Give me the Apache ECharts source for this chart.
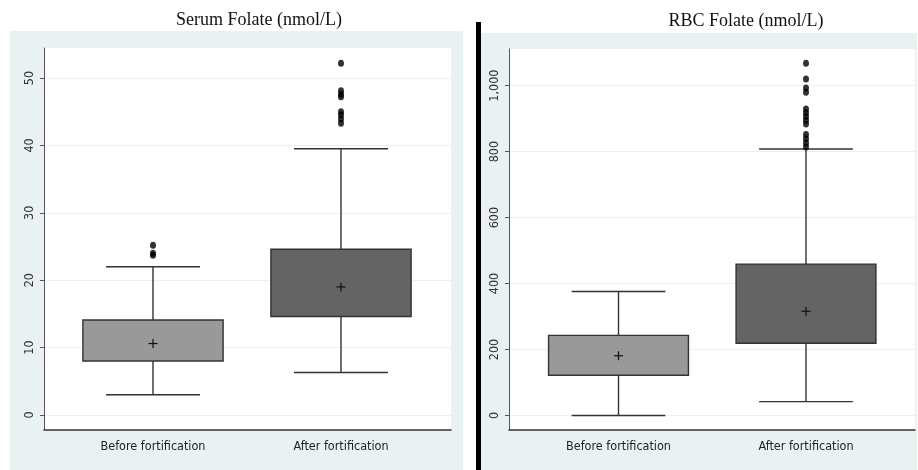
<!DOCTYPE html>
<html>
<head>
<meta charset="utf-8">
<script src="https://cdn.jsdelivr.net/npm/echarts@6/dist/echarts.min.js"></script>
<style>
html,body{margin:0;padding:0;background:#fff;}
#chart{width:918px;height:470px;}
</style>
</head>
<body>
<div id="chart"></div>
<script>
// ---- data ----
const categories = ['Before fortification', 'After fortification'];
const panelTitles = ['Serum Folate (nmol/L)', 'RBC Folate (nmol/L)'];

// [lowerWhisker, Q1, Q3, upperWhisker, mean]
const serumBefore = [3.0, 8.0, 14.1, 22.0, 10.6];
const serumAfter  = [6.3, 14.6, 24.6, 39.5, 19.0];
const rbcBefore   = [0, 122, 243, 376, 181];
const rbcAfter    = [42, 219, 459, 808, 316];

const serumOutBefore = [25.2, 24.0, 23.7];
const serumOutAfter  = [52.2, 48.1, 47.6, 47.2, 45.0, 44.5, 43.9, 43.3];
const rbcOutBefore   = [];
const rbcOutAfter    = [1068, 1020, 993, 980, 929, 918, 906, 895, 884, 852, 839, 826, 814];

const serumTicks = [0, 10, 20, 30, 40, 50];
const rbcTicks   = [0, 200, 400, 600, 800, 1000];

const boxFills = ['#999999', '#646464'];

// ---- build ----
function boxData(before, after) {
  return [[0].concat(before), [1].concat(after)].map((d, i) => ({
    value: d, itemStyle: { color: boxFills[i] }
  }));
}
function outData(before, after) {
  return before.map(v => [0, v]).concat(after.map(v => [1, v]));
}

function renderBox(params, api) {
  const x = api.value(0);
  const lo = api.coord([x, api.value(1)]);
  const q1 = api.coord([x, api.value(2)]);
  const q3 = api.coord([x, api.value(3)]);
  const hi = api.coord([x, api.value(4)]);
  const mn = api.coord([x, api.value(5)]);
  const band = api.size([1, 0])[0];
  const bw = band * 0.746;
  const cw = bw * 0.67;
  const cx = lo[0];
  const ls = { stroke: '#333', lineWidth: 1.4, fill: null };
  const fill = api.visual('color');
  return {
    type: 'group',
    children: [
      { type: 'line', shape: { x1: cx, y1: hi[1], x2: cx, y2: q3[1] }, style: ls },
      { type: 'line', shape: { x1: cx, y1: q1[1], x2: cx, y2: lo[1] }, style: ls },
      { type: 'line', shape: { x1: cx - cw / 2, y1: hi[1], x2: cx + cw / 2, y2: hi[1] }, style: ls },
      { type: 'line', shape: { x1: cx - cw / 2, y1: lo[1], x2: cx + cw / 2, y2: lo[1] }, style: ls },
      { type: 'rect', shape: { x: cx - bw / 2, y: q3[1], width: bw, height: q1[1] - q3[1] },
        style: { fill: fill, stroke: '#333', lineWidth: 1.4 } },
      { type: 'line', shape: { x1: cx - 4.5, y1: mn[1], x2: cx + 4.5, y2: mn[1] }, style: { stroke: '#111', lineWidth: 1.2 } },
      { type: 'line', shape: { x1: cx, y1: mn[1] - 4.5, x2: cx, y2: mn[1] + 4.5 }, style: { stroke: '#111', lineWidth: 1.2 } }
    ]
  };
}

const yRanges = [[-2.23, 54.45], [-44, 1111]];
const tickSets = [serumTicks, rbcTicks];

const labelFont = "'DejaVu Sans Condensed', 'Liberation Sans', sans-serif";

const gridsA = [
  { left: 44, right: 467, top: 48, bottom: 40, show: true, backgroundColor: '#ffffff', borderWidth: 0 },
  { left: 509, right: 3, top: 49, bottom: 40, show: true, backgroundColor: '#ffffff', borderWidth: 0 }
];
const gridsB = [
  { left: 59, right: 483, top: 48, bottom: 40 },
  { left: 524.75, right: 18.25, top: 49, bottom: 40 }
];

const xAxes = [], yAxes = [];
[0, 1].forEach(p => {
  xAxes.push({ gridIndex: p, type: 'value', min: 0, max: 1, position: 'bottom',
    axisLine: { show: true, onZero: false, lineStyle: { color: '#333', width: 1.5 } },
    axisTick: { show: false }, axisLabel: { show: false }, splitLine: { show: false } });
  yAxes.push({ gridIndex: p, type: 'value', min: yRanges[p][0], max: yRanges[p][1], position: 'left',
    axisLine: { show: true, onZero: false, lineStyle: { color: '#555', width: 1 } },
    axisTick: { show: true, length: 4, lineStyle: { color: '#555' }, customValues: tickSets[p] },
    axisLabel: { show: true, rotate: 90, margin: 8, color: '#333', fontSize: 12.5, fontFamily: labelFont,
      customValues: tickSets[p],
      formatter: v => Math.round(v).toLocaleString('en-US') },
    splitLine: { show: true, lineStyle: { color: '#e9f1f3', width: 1 } } });
});
[0, 1].forEach(p => {
  xAxes.push({ gridIndex: p + 2, type: 'category', data: categories, position: 'bottom',
    axisLine: { show: false, onZero: false }, axisTick: { show: false },
    axisLabel: { show: true, margin: 10, color: '#222', fontSize: 12.5, fontFamily: labelFont },
    splitLine: { show: false } });
  yAxes.push({ gridIndex: p + 2, type: 'value', min: yRanges[p][0], max: yRanges[p][1], show: false });
});

const series = [
  { type: 'custom', xAxisIndex: 2, yAxisIndex: 2, renderItem: renderBox, data: boxData(serumBefore, serumAfter), silent: true },
  { type: 'custom', xAxisIndex: 3, yAxisIndex: 3, renderItem: renderBox, data: boxData(rbcBefore, rbcAfter), silent: true },
  { type: 'scatter', xAxisIndex: 2, yAxisIndex: 2, data: outData(serumOutBefore, serumOutAfter),
    symbol: 'circle', symbolSize: [6, 7], itemStyle: { color: '#000' }, silent: true },
  { type: 'scatter', xAxisIndex: 3, yAxisIndex: 3, data: outData(rbcOutBefore, rbcOutAfter),
    symbol: 'circle', symbolSize: [6, 7], itemStyle: { color: '#000' }, silent: true }
];

const chart = echarts.init(document.getElementById('chart'), null, { renderer: 'canvas' });
chart.setOption({
  animation: false,
  backgroundColor: '#ffffff',
  title: [
    { text: panelTitles[0], left: 254, top: 6, textAlign: 'center',
      textStyle: { fontFamily: "'Liberation Serif', 'DejaVu Serif', serif", fontWeight: 'normal', fontSize: 18, color: '#111' } },
    { text: panelTitles[1], left: 741, top: 7, textAlign: 'center',
      textStyle: { fontFamily: "'Liberation Serif', 'DejaVu Serif', serif", fontWeight: 'normal', fontSize: 18, color: '#111' } }
  ],
  graphic: [
    { type: 'rect', z: -10, silent: true, shape: { x: 10, y: 31, width: 453, height: 439 }, style: { fill: '#eaf1f3' } },
    { type: 'rect', z: -10, silent: true, shape: { x: 481, y: 33, width: 436, height: 437 }, style: { fill: '#eaf1f3' } },
    { type: 'rect', z: 10, silent: true, shape: { x: 476, y: 22, width: 5, height: 448 }, style: { fill: '#000' } }
  ],
  grid: gridsA.concat(gridsB),
  xAxis: xAxes,
  yAxis: yAxes,
  series: series
});
</script>
</body>
</html>
